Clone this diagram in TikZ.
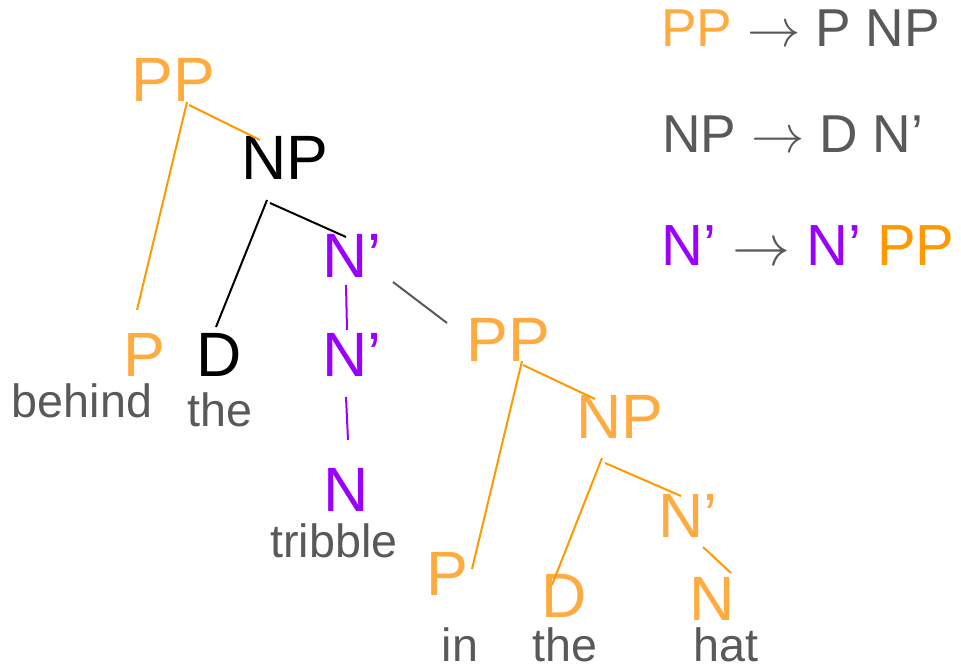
\RequirePackage{fix-cm}
\documentclass[tikz,border=0pt]{standalone}
\usepackage{fontspec}
\setmainfont{Liberation Sans}
\definecolor{lor}{HTML}{FFAB40}
\definecolor{dor}{HTML}{FF9900}
\definecolor{pur}{HTML}{9900FF}
\definecolor{gry}{HTML}{595959}
\tikzset{
  cat/.style={anchor=base, inner sep=0pt, font=\fontsize{47}{56}\selectfont},
  word/.style={anchor=base, inner sep=0pt, text=gry, font=\fontsize{35}{42}\selectfont},
  rule/.style={anchor=base west, inner sep=0pt, text=gry, font=\fontsize{40}{48}\selectfont},
  branch/.style={line width=1.5pt}
}
\begin{document}
\begin{tikzpicture}[x=0.75pt,y=-0.75pt]
\useasboundingbox (0,0) rectangle (961,666);
% tree nodes
\node[cat,text=lor] (PPa) at (173,102) {PP};
\node[cat,text=black] (NPa) at (285,180) {NP};
\node[cat,text=lor] (Pa) at (144,377) {P};
\node[cat,text=black] (Da) at (219,377) {D};
\node[cat,text=pur] (Nba) at (352,278) {N’};
\node[cat,text=pur] (Nbb) at (352,377) {N’};
\node[cat,text=pur] (Na) at (346,512) {N};
\node[cat,text=lor] (PPb) at (508,362) {PP};
\node[cat,text=lor] (Pb) at (447,595) {P};
\node[cat,text=lor] (NPb) at (620,439) {NP};
\node[cat,text=lor] (Db) at (564,618) {D};
\node[cat,text=lor] (Nbc) at (688,538) {N’};
\node[cat,text=lor] (Nb) at (712,620) {N};
% words
\node[word] (w1) at (82,418) {behind};
\node[word] (w2) at (220,427) {the};
\node[word] (w3) at (334,558) {tribble};
\node[word] (w4) at (460,661) {in};
\node[word] (w5) at (565,661) {the};
\node[word] (w6) at (726,661) {hat};
% branches
\draw[branch,dor] ([shift={(14,0)}]PPa.base) -- ([shift={(-7,-67)}]Pa.base);
\draw[branch,dor] ([shift={(16,3)}]PPa.base) -- ([shift={(-25,-40)}]NPa.base);
\draw[branch,black] ([shift={(-18,20)}]NPa.base) -- ([shift={(-3,-50)}]Da.base);
\draw[branch,black] ([shift={(-15,23)}]NPa.base) -- ([shift={(-6,-41)}]Nba.base);
\draw[branch,pur] ([shift={(-6,7)}]Nba.base) -- ([shift={(-5,-47)}]Nbb.base);
\draw[branch,pur] ([shift={(-6,20)}]Nbb.base) -- ([shift={(2,-72)}]Na.base);
\draw[branch,gry] ([shift={(41,4)}]Nba.base) -- ([shift={(-61,-39)}]PPb.base);
\draw[branch,dor] ([shift={(14,-1)}]PPb.base) -- ([shift={(25,-26)}]Pb.base);
\draw[branch,dor] ([shift={(15,3)}]PPb.base) -- ([shift={(-25,-40)}]NPb.base);
\draw[branch,dor] ([shift={(-18,19)}]NPb.base) -- ([shift={(-12,-33)}]Db.base);
\draw[branch,dor] ([shift={(-15,24)}]NPb.base) -- ([shift={(-7,-42)}]Nbc.base);
\draw[branch,dor] ([shift={(15,9)}]Nbc.base) -- ([shift={(19,-47)}]Nb.base);
% rules
\node[rule] (r1) at (661,47) {\textcolor{lor}{PP} $\rightarrow$ P NP};
\node[rule] (r2) at (662,153) {NP $\rightarrow$ D N’};
\node[rule,font=\fontsize{43.5}{52}\selectfont] (r3) at (661,266) {\textcolor{pur}{N’} $\rightarrow$ \textcolor{pur}{N’} \textcolor{dor}{PP}};
\end{tikzpicture}
\end{document}
